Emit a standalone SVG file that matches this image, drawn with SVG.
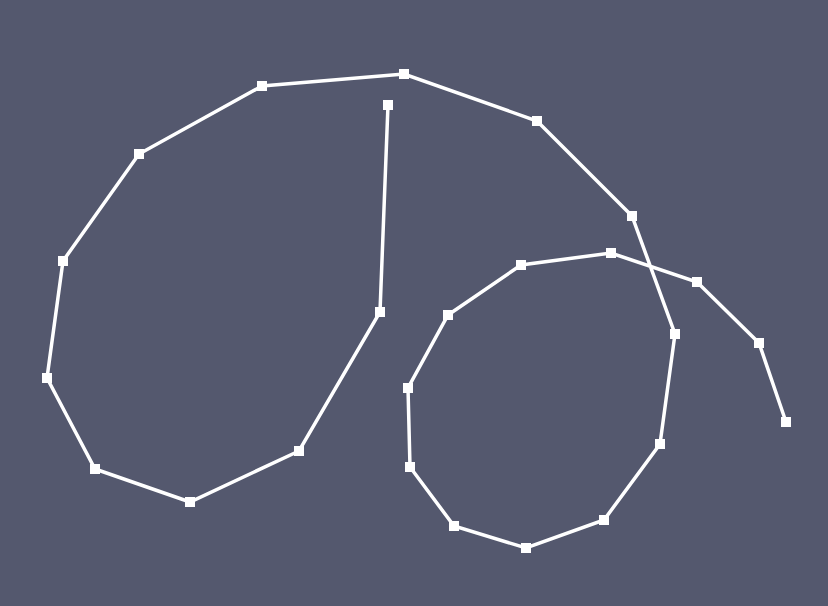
<svg xmlns="http://www.w3.org/2000/svg" width="828" height="606" viewBox="0 0 828 606">
<defs>
<marker id="sq" markerUnits="userSpaceOnUse" markerWidth="11" markerHeight="11" refX="5.5" refY="5.5" orient="0" viewBox="0 0 11 11">
<rect x="0.5" y="0.5" width="10" height="10" fill="#ffffff"/>
</marker>
</defs>
<style>
.ln{fill:none;stroke:#ffffff;stroke-width:3.5;stroke-linejoin:miter;marker-start:url(#sq);marker-mid:url(#sq);marker-end:url(#sq)}
</style>
<rect width="828" height="606" fill="#54586e"/>
<g id="connectors">
<polyline class="ln" points="388,105 380,312 299,451 190,502 95,469 47,378 63,261 139,154 262,86 404,74 537,121 632,216 675,334 660,444 604,520 526,548 454,526 410,467 408,388 448,315 521,265 611,253 697,282 759,343 786,422"/>
</g>
</svg>
